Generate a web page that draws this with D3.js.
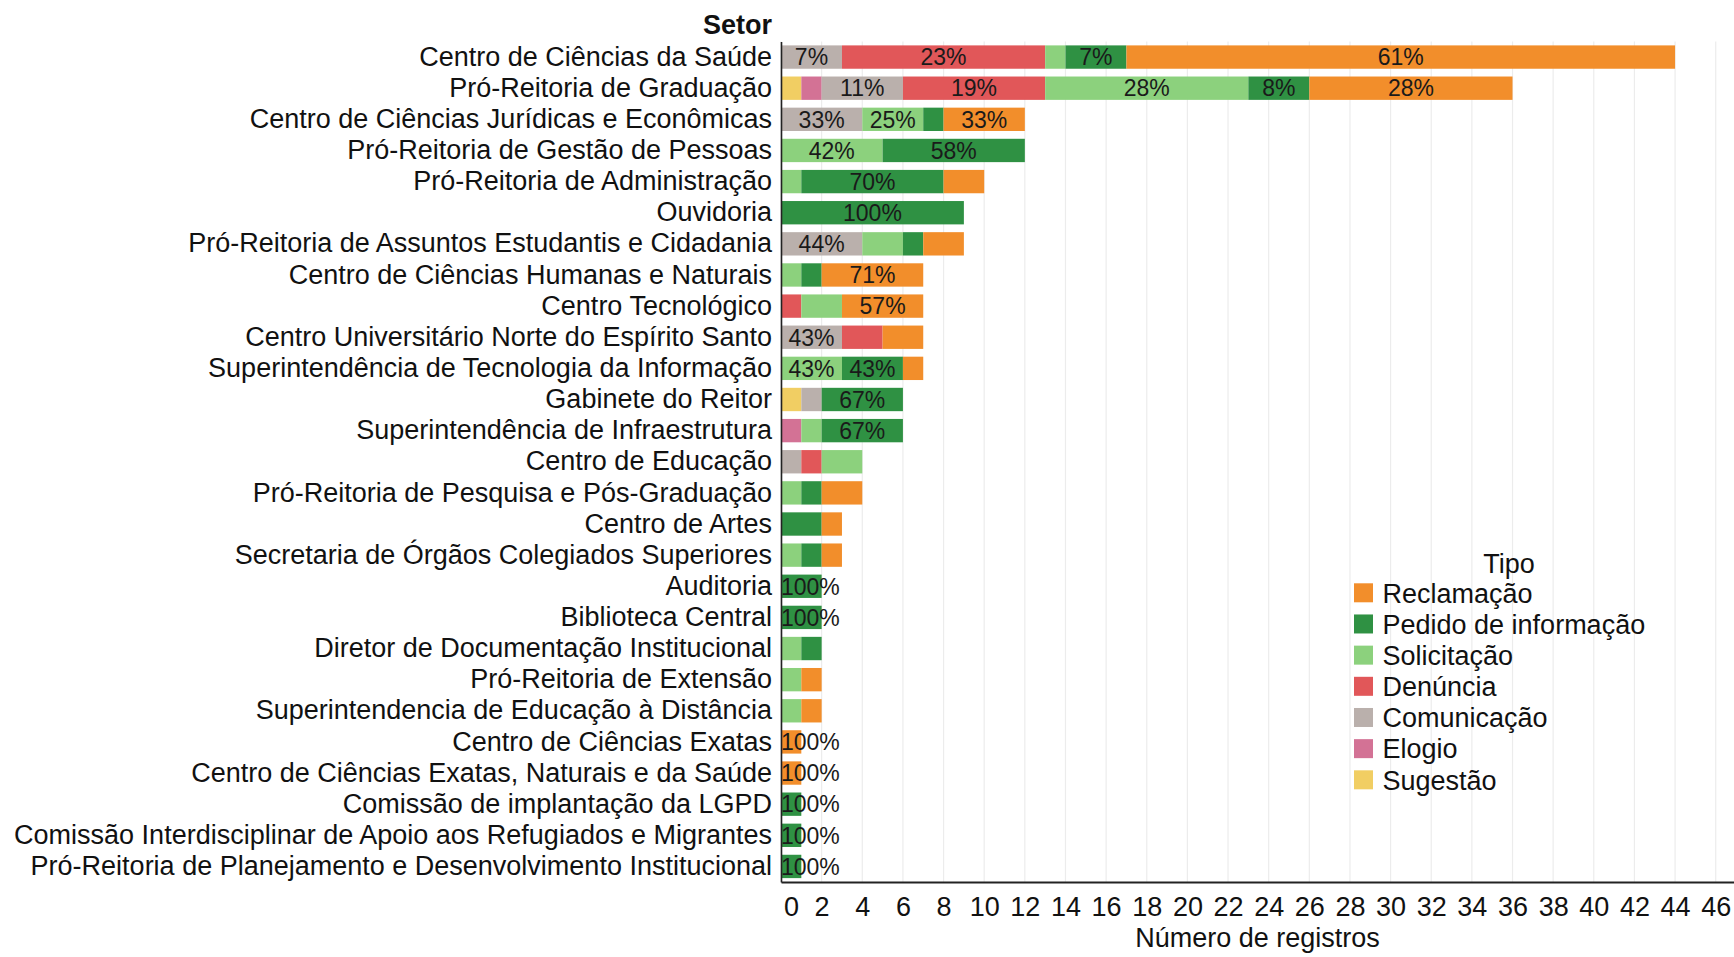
<!DOCTYPE html>
<html>
<head>
<meta charset="utf-8">
<script src="https://cdn.jsdelivr.net/npm/d3@7"></script>
<style>
  html, body { margin: 0; padding: 0; background: #fff; }
  svg { display: block; font-family: "Liberation Sans", Arial, sans-serif; }
</style>
</head>
<body>
<svg id="chart" width="1734" height="957"></svg>
<script>
// ---------- data ----------
const categories = [
  "Centro de Ciências da Saúde",
  "Pró-Reitoria de Graduação",
  "Centro de Ciências Jurídicas e Econômicas",
  "Pró-Reitoria de Gestão de Pessoas",
  "Pró-Reitoria de Administração",
  "Ouvidoria",
  "Pró-Reitoria de Assuntos Estudantis e Cidadania",
  "Centro de Ciências Humanas e Naturais",
  "Centro Tecnológico",
  "Centro Universitário Norte do Espírito Santo",
  "Superintendência de Tecnologia da Informação",
  "Gabinete do Reitor",
  "Superintendência de Infraestrutura",
  "Centro de Educação",
  "Pró-Reitoria de Pesquisa e Pós-Graduação",
  "Centro de Artes",
  "Secretaria de Órgãos Colegiados Superiores",
  "Auditoria",
  "Biblioteca Central",
  "Diretor de Documentação Institucional",
  "Pró-Reitoria de Extensão",
  "Superintendencia de Educação à Distância",
  "Centro de Ciências Exatas",
  "Centro de Ciências Exatas, Naturais e da Saúde",
  "Comissão de implantação da LGPD",
  "Comissão Interdisciplinar de Apoio aos Refugiados e Migrantes",
  "Pró-Reitoria de Planejamento e Desenvolvimento Institucional"
];

// series values, one per category (stacking order left -> right)
const sugestao     = [0,1,0,0,0,0,0,0,0,0,0,1,0,0,0,0,0,0,0,0,0,0,0,0,0,0,0];
const elogio       = [0,1,0,0,0,0,0,0,0,0,0,0,1,0,0,0,0,0,0,0,0,0,0,0,0,0,0];
const comunicacao  = [3,4,4,0,0,0,4,0,0,3,0,1,0,1,0,0,0,0,0,0,0,0,0,0,0,0,0];
const denuncia     = [10,7,0,0,0,0,0,0,1,2,0,0,0,1,0,0,0,0,0,0,0,0,0,0,0,0,0];
const solicitacao  = [1,10,3,5,1,0,2,1,2,0,3,0,1,2,1,0,1,0,0,1,1,1,0,0,0,0,0];
const pedidoInfo   = [3,3,1,7,7,9,1,1,0,0,3,4,4,0,1,2,1,2,2,1,0,0,0,0,1,1,1];
const reclamacao   = [27,10,4,0,2,0,2,5,4,2,1,0,0,0,2,1,1,0,0,0,1,1,1,1,0,0,0];

const seriesNames  = ["Sugestão","Elogio","Comunicação","Denúncia","Solicitação","Pedido de informação","Reclamação"];
const seriesValues = [sugestao, elogio, comunicacao, denuncia, solicitacao, pedidoInfo, reclamacao];
const seriesColors = ["#F1CE63","#D37295","#BAB0AC","#E15759","#8CD17D","#2F9143","#F28E2B"];
const legendOrder  = ["Reclamação","Pedido de informação","Solicitação","Denúncia","Comunicação","Elogio","Sugestão"];

const xTicks = [0,2,4,6,8,10,12,14,16,18,20,22,24,26,28,30,32,34,36,38,40,42,44,46];

// ---------- layout ----------
const svg = d3.select("#chart");
const plotL = 781, plotR = 1734, plotT = 41.5, plotB = 882;
const FONT = 27;

const x = d3.scaleLinear().domain([0, 46.9]).range([plotL, plotR]);
const y = d3.scaleBand().domain(categories).range([plotT, plotB])
  .paddingInner(0.25).paddingOuter(0.125);
const color = d3.scaleOrdinal().domain(seriesNames).range(seriesColors);

// table for stacking
const table = categories.map((c, i) => {
  const row = { cat: c };
  seriesNames.forEach((s, k) => row[s] = seriesValues[k][i]);
  row.total = d3.sum(seriesValues, v => v[i]);
  return row;
});
const stacked = d3.stack().keys(seriesNames)(table);

// gridlines
svg.append("g").selectAll("line").data(xTicks).join("line")
  .attr("x1", d => x(d)).attr("x2", d => x(d))
  .attr("y1", plotT).attr("y2", plotB)
  .attr("stroke", "#ececec").attr("stroke-width", 1.2);

// bars
const layers = svg.append("g").selectAll("g").data(stacked).join("g")
  .attr("fill", d => color(d.key));
layers.selectAll("rect").data(d => d.filter(p => p[1] - p[0] > 0)).join("rect")
  .attr("x", d => x(d[0]))
  .attr("y", d => y(d.data.cat))
  .attr("width", d => x(d[1]) - x(d[0]))
  .attr("height", y.bandwidth());

// percent labels
const labelG = svg.append("g");
stacked.forEach(layer => {
  layer.forEach(p => {
    const v = p[1] - p[0];
    if (v <= 0) return;
    const pct = Math.round(v / p.data.total * 100);
    if (!(v >= 3 || pct === 100)) return;
    const t = labelG.append("text")
      .attr("y", y(p.data.cat) + y.bandwidth() / 2)
      .attr("dy", "0.36em")
      .attr("text-anchor", "middle")
      .attr("font-size", 23)
      .attr("fill", "#1a1a1a")
      .text(pct + "%");
    const w = t.node().getComputedTextLength();
    const cx = Math.max((x(p[0]) + x(p[1])) / 2, plotL + w / 2);
    t.attr("x", cx);
  });
});

// x axis
const xAxis = svg.append("g")
  .attr("transform", `translate(0,${plotB})`)
  .call(d3.axisBottom(x).tickValues(xTicks).tickSize(0).tickSizeOuter(0).tickPadding(15));
xAxis.select(".domain").attr("stroke", "#222").attr("stroke-width", 2);
xAxis.selectAll("text").attr("font-size", FONT).attr("fill", "#111")
  .attr("font-family", "'Liberation Sans', Arial, sans-serif")
  .attr("dx", d => d === 0 ? 10 : 0);

// y axis
const yAxis = svg.append("g")
  .attr("transform", `translate(${plotL},0)`)
  .call(d3.axisLeft(y).tickSize(0).tickSizeOuter(0).tickPadding(9));
yAxis.select(".domain").attr("stroke", "#222").attr("stroke-width", 1.6);
yAxis.selectAll("text").attr("font-size", FONT).attr("fill", "#111")
  .attr("font-family", "'Liberation Sans', Arial, sans-serif");

// axis titles
svg.append("text").attr("x", 772).attr("y", 34)
  .attr("text-anchor", "end").attr("font-size", FONT).attr("font-weight", "bold")
  .attr("fill", "#111").text("Setor");
svg.append("text").attr("x", (plotL + plotR) / 2).attr("y", 947)
  .attr("text-anchor", "middle").attr("font-size", FONT)
  .attr("fill", "#111").text("Número de registros");

// legend
const lg = svg.append("g");
lg.append("text").attr("x", 1509).attr("y", 563).attr("dy", "0.36em")
  .attr("text-anchor", "middle").attr("font-size", FONT).attr("fill", "#111").text("Tipo");
const items = lg.selectAll("g.item").data(legendOrder).join("g")
  .attr("class", "item")
  .attr("transform", (d, i) => `translate(1354,${592.8 + i * 31.17})`);
items.append("rect").attr("x", 0).attr("y", -9.5).attr("width", 19).attr("height", 19)
  .attr("fill", d => color(d));
items.append("text").attr("x", 28.5).attr("y", 0).attr("dy", "0.36em")
  .attr("font-size", FONT).attr("fill", "#111").text(d => d);
</script>
</body>
</html>
